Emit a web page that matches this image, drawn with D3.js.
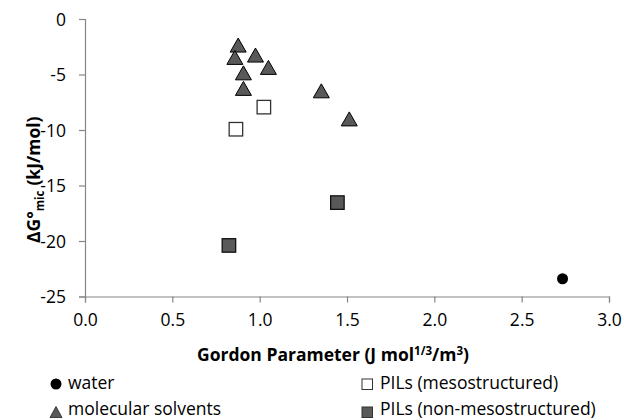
<!DOCTYPE html>
<html>
<head>
<meta charset="utf-8">
<script src="https://cdn.jsdelivr.net/npm/d3@7"></script>
<style>
  html, body { margin: 0; padding: 0; background: #fff; }
  svg { display: block; }
  text { font-family: "Open Sans", "DejaVu Sans", sans-serif; fill: #000; }
</style>
</head>
<body>
<svg id="chart" width="624" height="420"></svg>
<script>
// ---- data ----
const waterX = [2.734];
const waterY = [-23.4];
const molX = [0.877, 0.858, 0.976, 1.050, 0.907, 0.907, 1.353, 1.513];
const molY = [-2.35, -3.46, -3.25, -4.36, -4.85, -6.25, -6.47, -9.00];
const pilMesoX = [1.024, 0.864];
const pilMesoY = [-7.94, -9.93];
const pilNonX = [1.445, 0.824];
const pilNonY = [-16.54, -20.40];
const xTicks = [0, 0.5, 1.0, 1.5, 2.0, 2.5, 3.0];
const yTicks = [0, -5, -10, -15, -20, -25];

// ---- layout ----
const svg = d3.select("#chart");
const mLeft = 85, mRight = 609, mTop = 19, mBottom = 296.5;
const x = d3.scaleLinear().domain([0, 3]).range([mLeft, mRight]);
const y = d3.scaleLinear().domain([-25, 0]).range([mBottom, mTop]);
const axisColor = "#868686";
const fs = 17.5;

// axes
const xAxis = d3.axisBottom(x).tickValues(xTicks).tickFormat(d3.format(".1f")).tickSizeOuter(0).tickSize(6).tickPadding(9);
const yAxis = d3.axisLeft(y).tickValues(yTicks).tickFormat(d => d3.format("d")(d)).tickSizeOuter(0).tickSize(6).tickPadding(13);

const gx = svg.append("g").attr("transform", `translate(0,${mBottom})`).call(xAxis);
const gy = svg.append("g").attr("transform", `translate(${mLeft},0)`).call(yAxis);
[gx, gy].forEach(g => {
  g.select(".domain").attr("stroke", axisColor).attr("stroke-width", 1.2);
  g.selectAll(".tick line").attr("stroke", axisColor).attr("stroke-width", 1.2);
  g.selectAll(".tick text").attr("font-family", '"Open Sans", sans-serif').attr("font-size", fs).attr("fill", "#000");
});
gy.selectAll(".tick text").text(d => d === 0 ? "0" : "-" + Math.abs(d)).attr("dy", "0.36em");
gx.selectAll(".tick text").attr("dy", "0.8em");

// markers
const fillGray = "#595959";
function triPath(cx, cy, w, h) {
  const p = d3.path();
  p.moveTo(cx, cy - h / 2);
  p.lineTo(cx + w / 2, cy + h / 2);
  p.lineTo(cx - w / 2, cy + h / 2);
  p.closePath();
  return p.toString();
}

const plot = svg.append("g");
// molecular solvents (triangles)
plot.selectAll("path.mol").data(d3.range(molX.length)).join("path")
  .attr("class", "mol")
  .attr("d", i => triPath(x(molX[i]), y(molY[i]), 16, 14))
  .attr("fill", fillGray).attr("stroke", "#000").attr("stroke-width", 1);

// PILs mesostructured (open squares)
const sq = 13.5;
plot.selectAll("rect.meso").data(d3.range(pilMesoX.length)).join("rect")
  .attr("class", "meso")
  .attr("x", i => x(pilMesoX[i]) - sq / 2).attr("y", i => y(pilMesoY[i]) - sq / 2)
  .attr("width", sq).attr("height", sq)
  .attr("fill", "#fff").attr("stroke", "#333").attr("stroke-width", 1.3);

// PILs non-mesostructured (filled squares)
plot.selectAll("rect.non").data(d3.range(pilNonX.length)).join("rect")
  .attr("class", "non")
  .attr("x", i => x(pilNonX[i]) - sq / 2).attr("y", i => y(pilNonY[i]) - sq / 2)
  .attr("width", sq).attr("height", sq)
  .attr("fill", fillGray).attr("stroke", "#111").attr("stroke-width", 1.3);

// water (circle)
plot.selectAll("circle.water").data(d3.range(waterX.length)).join("circle")
  .attr("class", "water")
  .attr("cx", i => x(waterX[i])).attr("cy", i => y(waterY[i])).attr("r", 5.5)
  .attr("fill", "#000");

// axis titles
const xt = svg.append("text").attr("x", 197).attr("y", 361).attr("text-anchor", "start")
  .attr("font-weight", "bold").attr("font-size", fs);
xt.append("tspan").text("Gordon Parameter (J mol");
xt.append("tspan").attr("font-size", 11.5).attr("dy", -6).text("1/3");
xt.append("tspan").attr("dy", 6).text("/m");
xt.append("tspan").attr("font-size", 11.5).attr("dy", -6).text("3");
xt.append("tspan").attr("dy", 6).text(")");

const yt = svg.append("text").attr("transform", "translate(40,243) rotate(-90)").attr("text-anchor", "start")
  .attr("font-weight", "bold").attr("font-size", fs);
yt.append("tspan").text("ΔG°");
yt.append("tspan").attr("font-size", 11.5).attr("dy", 4).text("mic");
yt.append("tspan").attr("dy", -4).attr("dx", 5).text("(kJ/mol)");

// legend
const legend = svg.append("g");
legend.append("circle").attr("cx", 56).attr("cy", 384).attr("r", 5.5).attr("fill", "#000");
legend.append("text").attr("x", 68).attr("y", 389).attr("font-size", fs).text("water");
legend.append("path").attr("d", triPath(56, 412, 12, 11)).attr("fill", fillGray).attr("stroke", "#222").attr("stroke-width", 0.8);
legend.append("text").attr("x", 68).attr("y", 415).attr("font-size", fs).text("molecular solvents");
legend.append("rect").attr("x", 362).attr("y", 379).attr("width", 10.5).attr("height", 10.5)
  .attr("fill", "#fff").attr("stroke", "#333").attr("stroke-width", 1);
legend.append("text").attr("x", 380).attr("y", 389).attr("font-size", fs).text("PILs (mesostructured)");
legend.append("rect").attr("x", 362).attr("y", 407).attr("width", 10.5).attr("height", 10.5)
  .attr("fill", fillGray).attr("stroke", "#333").attr("stroke-width", 1);
legend.append("text").attr("x", 380).attr("y", 415).attr("font-size", fs).text("PILs (non-mesostructured)");
</script>
</body>
</html>
